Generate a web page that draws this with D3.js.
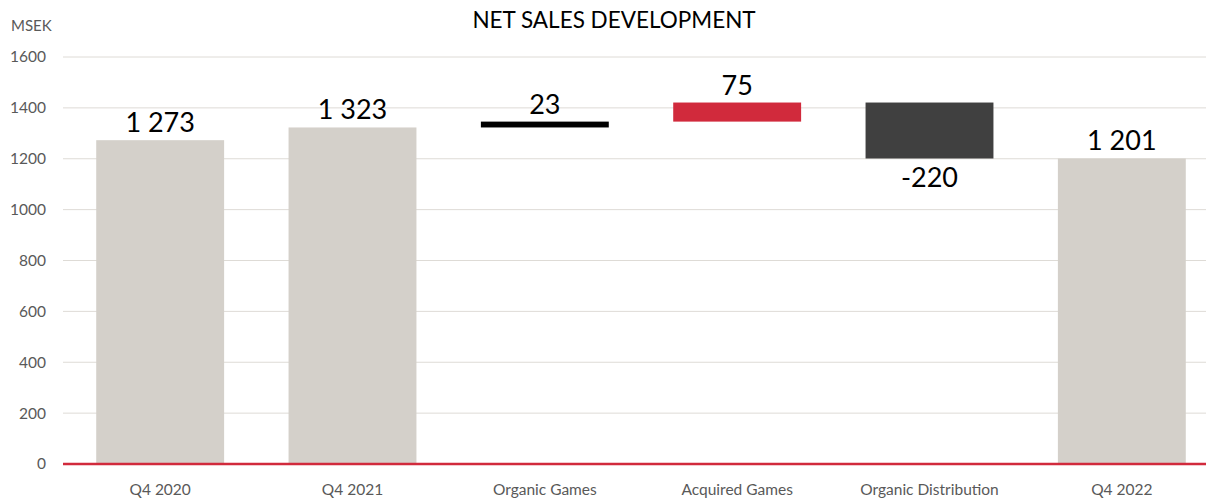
<!DOCTYPE html>
<html>
<head>
<meta charset="utf-8">
<script src="https://cdn.jsdelivr.net/npm/d3@7"></script>
<style>
  body { margin: 0; background: #fff; }
  svg { display: block; }
</style>
</head>
<body>
<svg id="chart" width="1206" height="503"></svg>
<script>
const categories = ["Q4 2020", "Q4 2021", "Organic Games", "Acquired Games", "Organic Distribution", "Q4 2022"];
const values = [1273, 1323, 23, 75, -220, 1201];
const kinds = ["total", "total", "delta", "delta", "delta", "total"];
const labels = ["1 273", "1 323", "23", "75", "-220", "1 201"];
const colors = ["#D4D0CA", "#D4D0CA", "#000000", "#D12A3C", "#404040", "#D4D0CA"];
const yTicks = [0, 200, 400, 600, 800, 1000, 1200, 1400, 1600];

const svg = d3.select("#chart");
const font = "Lato, 'Open Sans', sans-serif";

const x = d3.scaleBand().domain(categories).range([64, 1218]).paddingInner(0.335).paddingOuter(0.1675);
const y = d3.scaleLinear().domain([0, 1600]).range([464, 57]);

let running = 0;
const bars = categories.map((c, i) => {
  let lo, hi;
  if (kinds[i] === "total") { lo = 0; hi = values[i]; running = values[i]; }
  else { const start = running; running += values[i]; lo = Math.min(start, running); hi = Math.max(start, running); }
  return { c, lo, hi, v: values[i], label: labels[i], color: colors[i] };
});

// grid
svg.append("g").selectAll("line").data(yTicks.filter(t => t > 0)).join("line")
  .attr("x1", 63).attr("x2", 1206)
  .attr("y1", d => y(d)).attr("y2", d => y(d))
  .attr("stroke", "#DEDBD6").attr("stroke-width", 1);

// y axis labels
const yAxis = d3.axisLeft(y).tickValues(yTicks).tickSize(0).tickPadding(0).tickFormat(d3.format("d"));
const yg = svg.append("g").attr("transform", "translate(46,0)").call(yAxis);
yg.select(".domain").remove();
yg.selectAll("text").attr("font-family", font).attr("font-size", 15.5).attr("fill", "#595959").attr("text-anchor", "end");

svg.append("text").attr("x", 11).attr("y", 31).text("MSEK")
  .attr("font-family", font).attr("font-size", 15).attr("fill", "#595959");

// bars
svg.append("g").selectAll("rect").data(bars).join("rect")
  .attr("x", d => x(d.c)).attr("width", x.bandwidth())
  .attr("y", d => y(d.hi)).attr("height", d => y(d.lo) - y(d.hi))
  .attr("fill", d => d.color);

// zero line
svg.append("line").attr("x1", 63).attr("x2", 1206).attr("y1", y(0)).attr("y2", y(0))
  .attr("stroke", "#D12A3C").attr("stroke-width", 2.5);

// data labels
svg.append("g").selectAll("text").data(bars).join("text")
  .attr("x", d => x(d.c) + x.bandwidth() / 2)
  .attr("y", d => d.v < 0 ? y(d.lo) + 29 : y(d.hi) - 8)
  .attr("text-anchor", "middle")
  .attr("font-family", font).attr("font-size", 27).attr("fill", "#000")
  .text(d => d.label);

// x axis labels
const xAxis = d3.axisBottom(x).tickSize(0).tickPadding(0);
const xg = svg.append("g").attr("transform", "translate(0,484)").call(xAxis);
xg.select(".domain").remove();
xg.selectAll("text").attr("font-family", font).attr("font-size", 15.5).attr("fill", "#595959").attr("dy", "0.71em");

// title
svg.append("text").attr("x", 614).attr("y", 28).attr("text-anchor", "middle")
  .attr("font-family", font).attr("font-size", 22.5).attr("fill", "#000")
  .text("NET SALES DEVELOPMENT");
</script>
</body>
</html>
